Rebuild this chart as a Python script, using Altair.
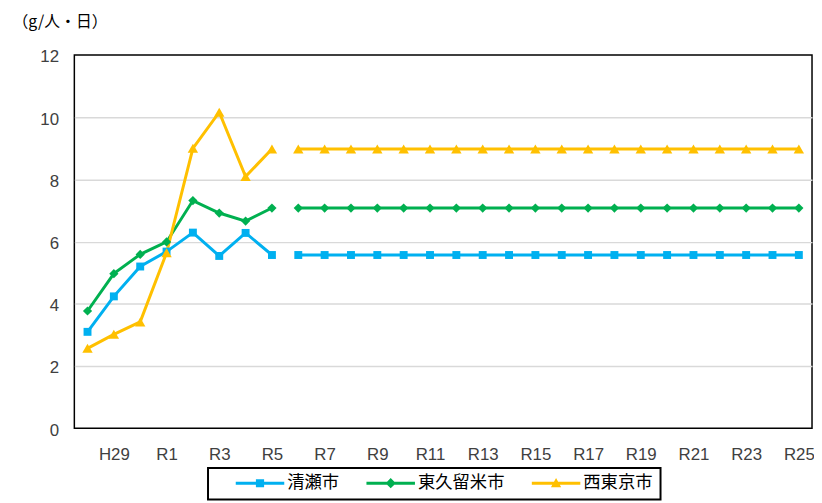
import altair as alt
import pandas as pd

years = ["H28", "H29", "H30", "R1", "R2", "R3", "R4", "R5", "R6", "R7",
         "R8", "R9", "R10", "R11", "R12", "R13", "R14", "R15", "R16", "R17",
         "R18", "R19", "R20", "R21", "R22", "R23", "R24", "R25"]
segments = ["実績"] * 8 + ["目標"] * 20
tick_labels = ["H29", "R1", "R3", "R5", "R7", "R9", "R11", "R13", "R15",
               "R17", "R19", "R21", "R23", "R25"]

kiyose = [3.10, 4.24, 5.20, 5.68, 6.29, 5.54, 6.28, 5.57,
          5.57, 5.57, 5.57, 5.57, 5.57, 5.57, 5.57, 5.57, 5.57, 5.57,
          5.57, 5.57, 5.57, 5.57, 5.57, 5.57, 5.57, 5.57, 5.57, 5.57]
higashikurume = [3.77, 4.97, 5.59, 5.99, 7.32, 6.92, 6.66, 7.08,
                 7.08, 7.08, 7.08, 7.08, 7.08, 7.08, 7.08, 7.08, 7.08, 7.08,
                 7.08, 7.08, 7.08, 7.08, 7.08, 7.08, 7.08, 7.08, 7.08, 7.08]
nishitokyo = [2.57, 3.02, 3.42, 5.64, 9.00, 10.16, 8.09, 8.98,
              8.98, 8.98, 8.98, 8.98, 8.98, 8.98, 8.98, 8.98, 8.98, 8.98,
              8.98, 8.98, 8.98, 8.98, 8.98, 8.98, 8.98, 8.98, 8.98, 8.98]

cities = ["清瀬市", "東久留米市", "西東京市"]
markers = ["清瀬市 marker", "東久留米市 marker", "西東京市 marker"]
colors = ["#00B0F0", "#00B050", "#FFC000"]
marker_shapes = ["square", "diamond", "triangle-up"]
marker_sizes = [64, 110, 100]

# legend symbols: a line with the series marker on it (unit box -1..1)
legend_paths = [
    "M-0.42,-0.045H1V0.045H-0.42Z M0.17,-0.12H0.41V0.12H0.17Z",
    "M-0.42,-0.045H1V0.045H-0.42Z M0.29,-0.15L0.44,0L0.29,0.15L0.14,0Z",
    "M-0.42,-0.045H1V0.045H-0.42Z M0.29,-0.15L0.44,0.12L0.14,0.12Z",
]

series = {"清瀬市": kiyose, "東久留米市": higashikurume, "西東京市": nishitokyo}
rows = []
for city, mk in zip(cities, markers):
    for y, s, v in zip(years, segments, series[city]):
        rows.append({"year": y, "seg": s, "city": city, "marker": mk, "value": v})
df = pd.DataFrame(rows)

cscale = alt.Scale(domain=cities + markers, range=colors + colors)
sscale = alt.Scale(domain=cities + markers, range=legend_paths + marker_shapes)

X = alt.X("year:O", sort=years,
          scale=alt.Scale(type="point", padding=0.5),
          axis=alt.Axis(values=tick_labels, title=None, ticks=False, domain=False,
                        grid=False, labelAngle=0, labelPadding=19,
                        labelFont="Liberation Sans", labelFontSize=17,
                        labelColor="#404040"))
Y = alt.Y("value:Q", scale=alt.Scale(domain=[0, 12], nice=False),
          axis=alt.Axis(values=[0, 2, 4, 6, 8, 10, 12], title="（g/人・日）",
                        titleAngle=0, titleX=-63, titleY=-34, titleAlign="left",
                        titleBaseline="middle", titleFont="Noto Sans CJK JP",
                        titleFontSize=16, titleFontWeight="normal", titleColor="#000000",
                        ticks=False, domain=False, labelPadding=16, labelOffset=2,
                        labelFont="Liberation Sans", labelFontSize=17,
                        labelColor="#404040",
                        gridColor=alt.condition("datum.value == 0 || datum.value == 12",
                                                alt.value("transparent"), alt.value("#D9D9D9")),
                        gridWidth=1.5))

lines = alt.Chart(df).mark_line(strokeWidth=3).encode(
    x=X, y=Y,
    color=alt.Color("city:N", scale=cscale, legend=None),
    detail="seg:N",
)
points = alt.Chart(df).mark_point(filled=True, opacity=1).encode(
    x=X, y=Y,
    color=alt.Color("marker:N", scale=cscale, legend=None),
    shape=alt.Shape("marker:N", scale=sscale, legend=None),
    size=alt.Size("marker:N", scale=alt.Scale(domain=markers, range=marker_sizes), legend=None),
)

leg = alt.Legend(values=cities, title=None, orient="none", legendX=135, legendY=417,
                 direction="horizontal", symbolSize=4761, symbolOpacity=1, clipHeight=15,
                 symbolStrokeWidth=0, labelFont="Noto Sans CJK JP", labelFontSize=17.5,
                 labelColor="#000000", labelOffset=3, columnPadding=7, padding=8,
                 strokeColor="#000000")
legend_layer = alt.Chart(df).mark_point(filled=True, opacity=0).encode(
    x=X, y=Y,
    color=alt.Color("city:N", scale=cscale, legend=leg),
    shape=alt.Shape("city:N", scale=sscale, legend=leg),
)

chart = alt.layer(lines, points, legend_layer).resolve_legend(
    color="independent", shape="independent"
).properties(
    width=745, height=377,
    autosize=alt.AutoSizeParams(type="none"),
    padding={"left": 67, "top": 45, "right": 2, "bottom": 72},
).configure_view(stroke="#000000", strokeWidth=1.5
).configure_legend(strokeWidth=2)

chart.save("out.html", embed_options={"renderer": "svg", "actions": False})
